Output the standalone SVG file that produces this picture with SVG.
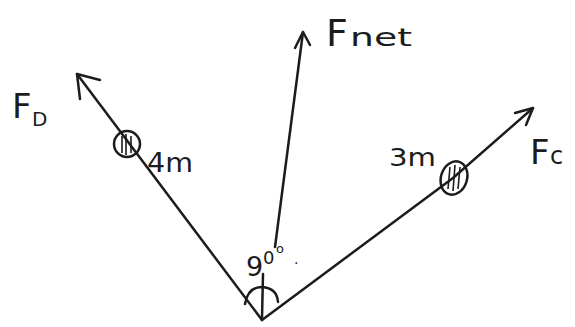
<svg xmlns="http://www.w3.org/2000/svg" width="575" height="327" viewBox="0 0 575 327">
<style>
.ln{fill:none;stroke:#1c1c1c;stroke-width:2.5;stroke-linecap:round;stroke-linejoin:round}
.th{fill:none;stroke:#1c1c1c;stroke-width:1.6}
.tx{font-family:"DejaVu Sans",sans-serif;fill:#1c1c1c}
</style>
<rect width="575" height="327" fill="#ffffff"/>
<g id="connectors">
<path class="ln" d="M262,320 L77,74"/>
<path class="ln" d="M100,80 L77,74 L80,99"/>
<path class="ln" d="M262,320 L453,178 L533,108"/>
<path class="ln" d="M515,113 L533,108 L526,125"/>
<path class="ln" d="M275,247 L303,32"/>
<path class="ln" d="M295,48 L303,32 L310,45"/>
<path class="ln" d="M245,304 Q248,287 262,287 Q277,288 278,302"/>
<path class="ln" d="M263,274 L262,318"/>
</g>
<g id="bead-left">
<ellipse cx="127" cy="144" rx="13" ry="13" fill="#ffffff" class="ln"/>
<path class="th" d="M122,136 V153 M126,134 V155 M131,136 V153"/>
</g>
<g id="bead-right">
<ellipse cx="454" cy="178" rx="13" ry="17" fill="#ffffff" class="ln" transform="rotate(18 454 178)"/>
<path class="th" d="M450,167 L448,189 M455,165 L453,191 M460,167 L458,189"/>
</g>
<g id="labels">
<text class="tx" x="12" y="118" font-size="34">F</text>
<text class="tx" x="32" y="126" font-size="20">D</text>
<text class="tx" x="147" y="172" font-size="26" textLength="46" lengthAdjust="spacingAndGlyphs">4m</text>
<text class="tx" x="326" y="46" font-size="38">F</text>
<text class="tx" x="350" y="46" font-size="25" textLength="62" lengthAdjust="spacingAndGlyphs">net</text>
<text class="tx" x="389" y="166" font-size="25" textLength="47" lengthAdjust="spacingAndGlyphs">3m</text>
<text class="tx" x="530" y="164" font-size="34">F</text>
<text class="tx" x="550" y="164" font-size="24">c</text>
<text class="tx" x="246" y="276" font-size="27">9</text>
<text class="tx" x="263" y="264" font-size="18">0</text>
<text class="tx" x="276" y="253" font-size="13">o</text>
<text class="tx" x="294" y="264" font-size="14">.</text>
</g>
</svg>
